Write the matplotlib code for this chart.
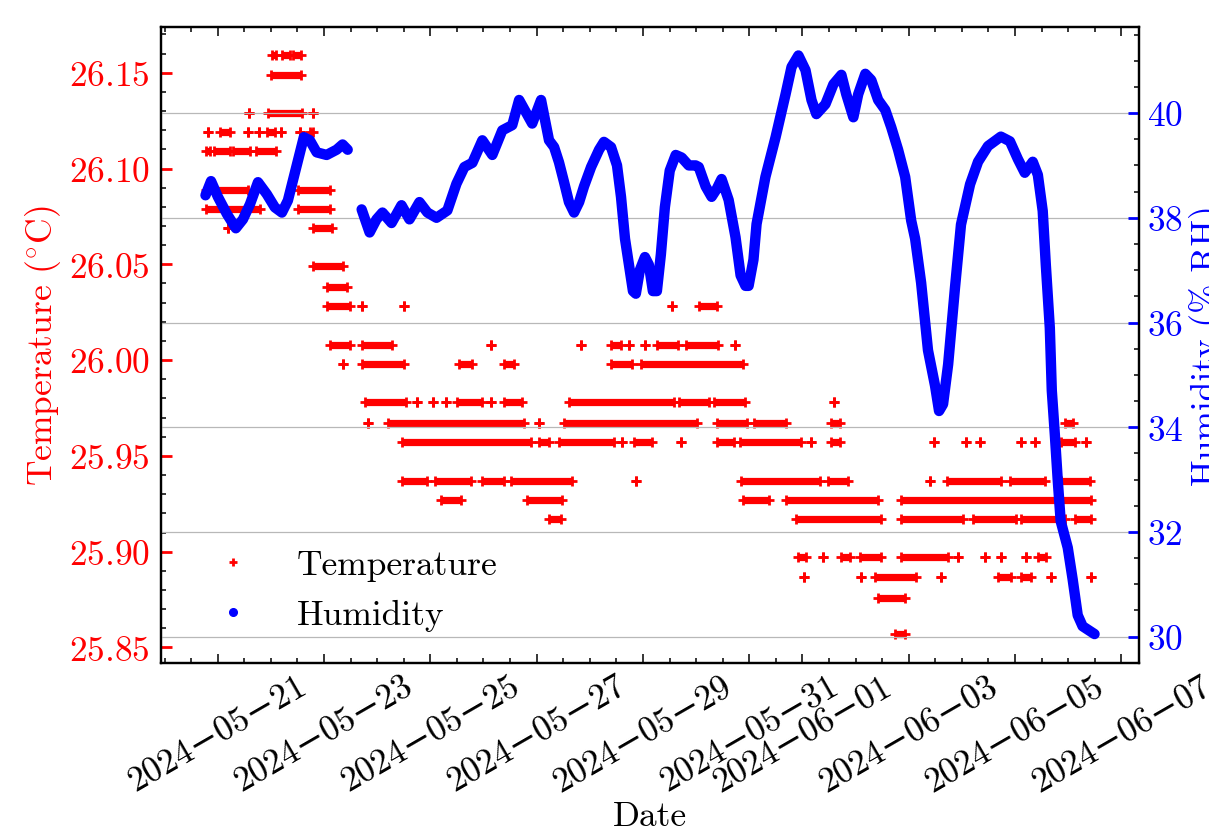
import numpy as np
import pandas as pd
import matplotlib
matplotlib.use('Agg')
import matplotlib.pyplot as plt
import matplotlib.dates as mdates
from matplotlib.ticker import AutoMinorLocator
from matplotlib.lines import Line2D

plt.rcParams['font.family'] = ['cmr10', 'DejaVu Serif']
plt.rcParams['mathtext.fontset'] = 'cm'
plt.rcParams['axes.formatter.use_mathtext'] = True
plt.rcParams['font.size'] = 25.5

# time axis: hours after this moment
t0 = pd.Timestamp('2024-05-20 00:00')

# humidity trace (hours after t0, % RH); nan = logging gap
hum_hours = [18.5, 21.0, 24.1, 28.2, 32.2, 35.4, 38.6, 42.2, 46.2, 49.8,
             53.0, 55.7, 59.7, 62.9, 65.6, 68.7, 73.2, 77.7, 80.4, 82.7,
             85.8, 89.0, 92.6, 95.7, 98.4, 102.5, 107.0, 110.6, 115.1, 118.7,
             122.8, 127.7, 131.8, 135.4, 139.0, 143.5, 148.0, 152.5, 157.0, 160.1,
             166.0, 170.0, 173.6, 175.9, 178.1, 180.4, 182.6, 184.9, 187.2, 189.4,
             192.6, 196.2, 198.4, 201.6, 204.3, 206.1, 207.9, 209.7, 211.5, 212.8,
             214.6, 216.9, 218.7, 220.5, 222.3, 224.1, 225.9, 228.1, 230.8, 233.5,
             236.7, 239.8, 241.2, 244.3, 247.0, 249.3, 251.5, 254.7, 257.8, 260.1,
             262.3, 263.7, 265.9, 267.3, 271.3, 275.9, 280.4, 283.1, 286.2, 289.4,
             292.1, 294.3, 298.4, 302.0, 305.6, 307.8, 311.0, 313.2, 316.4, 319.1,
             322.2, 325.4, 328.1, 331.2, 334.4, 337.1, 338.9, 341.6, 344.7, 347.9,
             349.7, 351.5, 353.8, 356.9, 359.6, 363.7, 367.3, 371.8, 377.6, 381.7,
             385.3, 388.4, 392.0, 394.3, 396.5, 397.9, 399.7, 400.6, 402.0, 403.3,
             404.6, 407.8, 410.0, 412.3, 414.5, 417.7, 419.9]
hum_values = [38.43, 38.7, 38.4, 38.07, 37.8, 37.97, 38.26, 38.68, 38.45, 38.2,
              38.1, 38.33, 39.0, 39.54, 39.48, 39.25, 39.2, 39.3, 39.4, 39.3,
              np.nan, 38.16, 37.72, 37.97, 38.1, 37.9, 38.24, 37.97, 38.3, 38.1,
              38.0, 38.14, 38.65, 38.97, 39.05, 39.48, 39.2, 39.67, 39.77, 40.25,
              39.8, 40.25, 39.48, 39.35, 39.06, 38.68, 38.3, 38.1, 38.3, 38.6,
              38.97, 39.3, 39.45, 39.35, 39.0, 38.4, 37.6, 37.1, 36.6, 36.55,
              37.0, 37.25, 37.1, 36.6, 36.6, 37.3, 38.2, 38.9, 39.2, 39.15,
              39.0, 39.0, 38.97, 38.6, 38.4, 38.55, 38.74, 38.34, 37.63, 36.9,
              36.7, 36.7, 37.2, 37.88, 38.78, 39.54, 40.36, 40.88, 41.1, 40.82,
              40.25, 39.98, 40.17, 40.55, 40.73, 40.36, 39.92, 40.36, 40.75, 40.63,
              40.25, 40.06, 39.73, 39.3, 38.78, 37.95, 37.6, 36.76, 35.47, 34.79,
              34.31, 34.44, 35.2, 36.67, 37.87, 38.64, 39.07, 39.37, 39.55, 39.46,
              39.12, 38.86, 39.07, 38.82, 38.13, 37.1, 35.9, 34.7, 33.84, 32.98,
              32.21, 31.7, 31.1, 30.41, 30.2, 30.11, 30.05]

# temperature readings: each level with the (start, end) hour spans where it was logged
temp_levels = [26.159, 26.149, 26.129, 26.119, 26.109, 26.089, 26.079, 26.069,
               26.049, 26.038, 26.028, 26.008, 25.998, 25.978, 25.967, 25.957,
               25.937, 25.927, 25.917, 25.897, 25.887, 25.876, 25.857]
temp_runs = [
    [(48.5, 50.5), (53, 56.5), (58, 61.5)],
    [(48, 61.5)],
    [(38.1, 38.1), (46.5, 62), (66.9, 66.9)],
    [(19.5, 19.5), (25, 29.5), (37.6, 37.6), (42.6, 42.6), (46.2, 49.8), (52.5, 52.5), (61, 61), (65.5, 67)],
    [(18.7, 20.5), (22.5, 29.5), (31, 38.5), (41.5, 50.5)],
    [(18.7, 37.6), (60.2, 74.6)],
    [(18.7, 43), (60.2, 74.6)],
    [(28.6, 28.6), (67, 75.5)],
    [(67, 80.4)],
    [(73.2, 82.2)],
    [(73.2, 83.6), (89, 89), (107.9, 107.9), (229, 229), (241.2, 249.3)],
    [(74.6, 83.6), (89, 102.5), (147.5, 147.5), (188, 188), (201.5, 206), (209.5, 209.5),
     (217, 217), (222.5, 232), (235.5, 250), (257.4, 257.4)],
    [(80.4, 80.4), (89, 108.3), (133.1, 139), (153.4, 157.9), (201.5, 211), (215, 261.4)],
    [(90.3, 109.2), (114.2, 114.2), (121, 121), (127.3, 127.3), (132.2, 143.5), (147.5, 147.5),
     (153.4, 161.5), (182.6, 229.9), (232.2, 245.7), (248, 262.3), (302.4, 302.4)],
    [(91.7, 91.7), (100.7, 162.4), (169.1, 169.1), (180.4, 240.3), (249.3, 262.8), (266, 280.8),
     (301, 305), (406.4, 410)],
    [(107.4, 165.5), (169, 173.6), (178.1, 202.9), (206.5, 206.5), (212, 220), (233, 233),
     (249.3, 257), (260, 287.5), (292, 292), (301, 305), (347.5, 347.5), (362, 362), (368, 368),
     (386.6, 386.6), (393, 393), (404.6, 410.9), (416, 416)],
    [(107.4, 118.7), (121.9, 138.5), (143.5, 153.4), (156.5, 184), (212.8, 212.8), (260.5, 296),
     (299.7, 308.7), (345.8, 345.8), (353.5, 377.6), (381.7, 397.4), (404.6, 417.7)],
    [(125, 134), (163.7, 179.5), (261.4, 272.7), (280.4, 322.2), (332.6, 418.5)],
    [(173.6, 179), (285.3, 323.6), (332.6, 360.5), (365, 384.4), (386.6, 406.4), (410.9, 418.5)],
    [(286.2, 289.8), (297.5, 297.5), (305.6, 309.6), (314, 323.6), (332.6, 353.8), (358.3, 358.3),
     (370.4, 370.4), (377.6, 377.6), (388.9, 388.9), (394.3, 397.9)],
    [(288.5, 288.5), (314.6, 314.6), (320.9, 339.4), (350.6, 350.6), (376.3, 382.1),
     (386.6, 391.1), (400.1, 400.1), (418.2, 418.2)],
    [(322.2, 334.4)],
    [(329.9, 334.4)],
]

fig = plt.figure(figsize=(12.09, 8.37), dpi=100)
ax = fig.add_axes([0.1332, 0.2067, 0.8089, 0.7604])
ax2 = ax.twinx()

# temperature: dense readings drawn as bars with + at the ends
for level, runs in zip(temp_levels, temp_runs):
    starts = (t0 + pd.to_timedelta([r[0] for r in runs], unit='h')).to_pydatetime()
    ends = (t0 + pd.to_timedelta([r[1] for r in runs], unit='h')).to_pydatetime()
    ax.hlines([level] * len(runs), starts, ends, color='red', lw=5.2, capstyle='butt')
    pts = np.concatenate([starts, ends])
    ax.plot(pts, [level] * len(pts), ls='none', marker='+', color='red', ms=6.5, mew=2.0)

# humidity
hum_time = (t0 + pd.to_timedelta(hum_hours, unit='h')).to_pydatetime()
ax2.plot(hum_time, hum_values, color='blue', lw=7.5,
         solid_capstyle='round', solid_joinstyle='round')

ax.xaxis.set_major_locator(mdates.DayLocator(bymonthday=range(1, 32, 2)))
ax.xaxis.set_minor_locator(mdates.HourLocator(byhour=[0, 12]))
ax.xaxis.set_major_formatter(mdates.DateFormatter('%Y\u2212%m\u2212%d'))
ax.yaxis.set_minor_locator(AutoMinorLocator(5))
ax2.yaxis.set_minor_locator(AutoMinorLocator(4))

ax.tick_params(which='both', direction='in', width=1.1)
ax.tick_params(axis='x', which='both', top=True, bottom=True)
ax.tick_params(axis='x', which='major', length=6.5, pad=5)
ax.tick_params(axis='x', which='minor', length=3.5)
ax.tick_params(axis='y', which='both', left=True, right=False)
ax.tick_params(axis='y', which='major', colors='red', length=8, width=2, pad=8)
ax.tick_params(axis='y', which='minor', length=3.5, color='black')
ax2.tick_params(which='both', direction='in', width=1.1)
ax2.tick_params(axis='y', which='major', colors='blue', length=8, width=2, pad=6)
ax2.tick_params(axis='y', which='minor', length=3.5, color='black')

for a in (ax, ax2):
    for s in a.spines.values():
        s.set_linewidth(1.6)

plt.setp(ax.get_xticklabels(), rotation=30, ha='center')

ax2.grid(True, axis='y', which='major', color='#b8b8b8', lw=0.9)

ax.set_xlabel('Date', labelpad=2)
ax.set_ylabel(r'Temperature ($^{\circ}$C)', color='red')
ax2.set_ylabel('Humidity (% RH)', color='blue')

handles = [Line2D([], [], ls='none', marker='+', color='red', ms=6, mew=2),
           Line2D([], [], ls='none', marker='o', color='blue', ms=5.5)]
ax2.legend(handles, ['Temperature', 'Humidity'], loc='lower left',
           bbox_to_anchor=(0.005, 0.0), frameon=False)

fig.savefig('out.png', dpi=100)
